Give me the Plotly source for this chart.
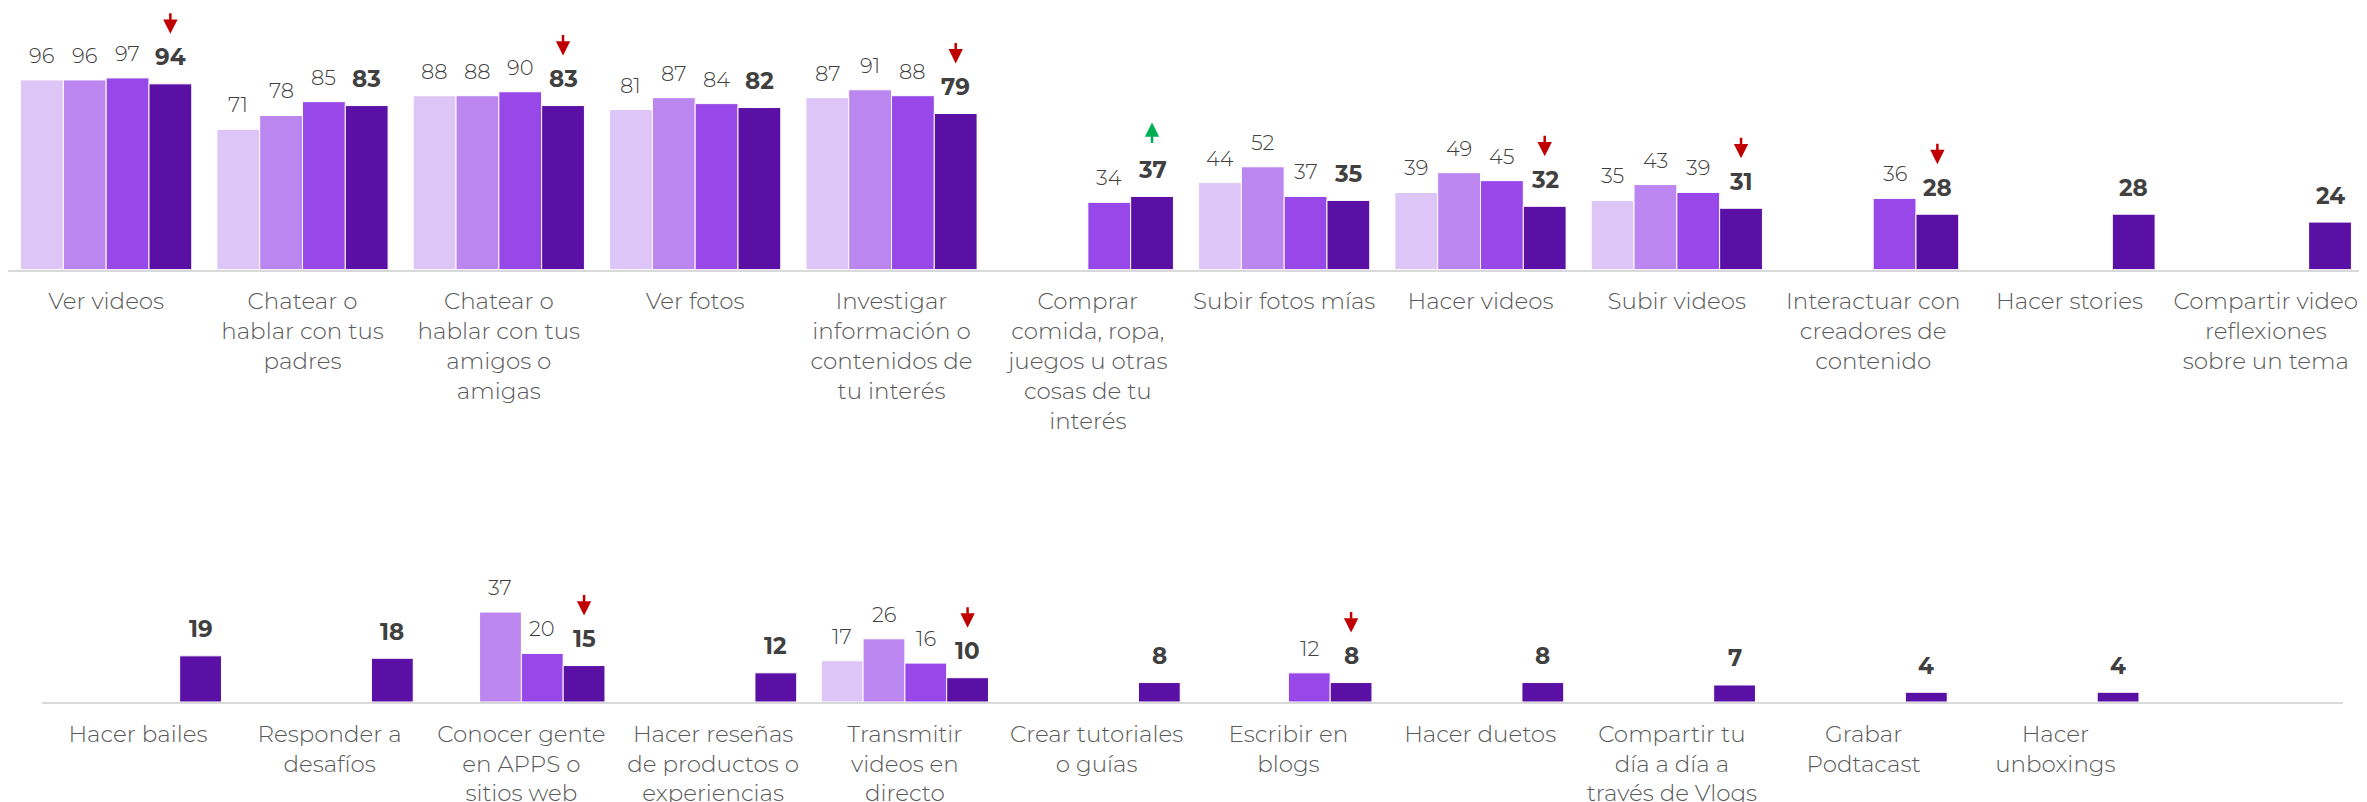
import plotly.graph_objects as go

# ---------------- data ----------------
series_names = ["Serie 1", "Serie 2", "Serie 3", "Serie 4"]
series_colors = ["#DEC5F8", "#BB86F0", "#9848E8", "#5A10A4"]

top_categories = [
    "Ver videos",
    "Chatear o<br>hablar con tus<br>padres",
    "Chatear o<br>hablar con tus<br>amigos o<br>amigas",
    "Ver fotos",
    "Investigar<br>información o<br>contenidos de<br>tu interés",
    "Comprar<br>comida, ropa,<br>juegos u otras<br>cosas de tu<br>interés",
    "Subir fotos mías",
    "Hacer videos",
    "Subir videos",
    "Interactuar con<br>creadores de<br>contenido",
    "Hacer stories",
    "Compartir video<br>reflexiones<br>sobre un tema",
]
top_s1 = [96, 71, 88, 81, 87, None, 44, 39, 35, None, None, None]
top_s2 = [96, 78, 88, 87, 91, None, 52, 49, 43, None, None, None]
top_s3 = [97, 85, 90, 84, 88, 34, 37, 45, 39, 36, None, None]
top_s4 = [94, 83, 83, 82, 79, 37, 35, 32, 31, 28, 28, 24]
top_trend = ["down", None, "down", None, "down", "up", None, "down", "down", "down", None, None]

bottom_categories = [
    "Hacer bailes",
    "Responder a<br>desafíos",
    "Conocer gente<br>en APPS o<br>sitios web",
    "Hacer reseñas<br>de productos o<br>experiencias",
    "Transmitir<br>videos en<br>directo",
    "Crear tutoriales<br>o guías",
    "Escribir en<br>blogs",
    "Hacer duetos",
    "Compartir tu<br>día a día a<br>través de Vlogs",
    "Grabar<br>Podtacast",
    "Hacer<br>unboxings",
]
bot_s1 = [None, None, None, None, 17, None, None, None, None, None, None]
bot_s2 = [None, None, 37, None, 26, None, None, None, None, None, None]
bot_s3 = [None, None, 20, None, 16, None, 12, None, None, None, None]
bot_s4 = [19, 18, 15, 12, 10, 8, 8, 8, 7, 4, 4]
bot_trend = [None, None, "down", None, "down", None, "down", None, None, None, None]

# ---------------- layout constants ----------------
# the page body has an 8px margin, so the figure starts at (8, 8) in the window
OFF = 8
W, H = 2367 - OFF, 802 - OFF
FONT = "Montserrat, 'Open Sans', sans-serif"
LABEL_COLOR = "#404040"
CAT_COLOR = "#595959"
BARGAP = 0.128

top_x = (0, 2364 - OFF)
bot_x = (42 - OFF, 2343 - OFF)
top_base, top_scale, top_max = 269.5 - OFF, 1.975, 128
bot_base, bot_scale, bot_max = 702 - OFF, 2.43, 60
n_slots = 12

def ydom(base, scale, vmax):
    top_px = base - scale * vmax
    return [(H - base) / H, (H - top_px) / H]

top_bar_w = (top_x[1] - top_x[0]) / n_slots * (1 - BARGAP) / 4
bot_bar_w = (bot_x[1] - bot_x[0]) / n_slots * (1 - BARGAP) / 4

fig = go.Figure()
annotations = []

rows = [
    (top_categories, [top_s1, top_s2, top_s3, top_s4], top_trend, "x", "y", top_bar_w),
    (bottom_categories, [bot_s1, bot_s2, bot_s3, bot_s4], bot_trend, "x2", "y2", bot_bar_w),
]

for cats, series, trend, xr, yr, bw in rows:
    for si, vals in enumerate(series):
        fig.add_trace(go.Bar(
            x=cats, y=vals, name=series_names[si],
            marker=dict(color=series_colors[si], line=dict(color="white", width=1)),
            xaxis=xr, yaxis=yr, showlegend=False, hoverinfo="x+y",
        ))
        for ci, v in enumerate(vals):
            if v is None:
                continue
            bold = si == 3
            annotations.append(dict(
                x=cats[ci], y=v, xref=xr, yref=yr,
                text=f"<b>{v}</b>" if bold else str(v),
                showarrow=False, xanchor="center", yanchor="middle",
                xshift=(si - 1.5) * bw, yshift=26.5 if bold else 24.5,
                font=dict(family=FONT, size=23 if bold else 21, color=LABEL_COLOR,
                          weight=700 if bold else 300),
            ))
    # trend arrows above last series
    for ci, t in enumerate(trend):
        if t is None:
            continue
        v = series[3][ci]
        up = t == "up"
        annotations.append(dict(
            x=cats[ci], y=v, xref=xr, yref=yr, text="",
            showarrow=True, arrowhead=2, arrowsize=1.15, arrowwidth=2.5,
            arrowcolor="#00B050" if up else "#C00000",
            ax=0, ay=22 if up else -22, axref="pixel", ayref="pixel",
            xshift=1.5 * bw, yshift=74 if up else 50, standoff=0, startstandoff=0,
        ))

axis_common = dict(
    type="category", range=[-0.5, n_slots - 0.5], showgrid=False, zeroline=False,
    showline=True, linecolor="#D9D9D9", linewidth=2, ticks="",
    ticklabelstandoff=10, tickangle=0, automargin=False,
    tickfont=dict(family=FONT, size=23, color=CAT_COLOR, weight=300),
)
yaxis_common = dict(showgrid=False, zeroline=False, showline=False, showticklabels=False,
                    fixedrange=True, automargin=False)

fig.update_layout(
    width=W, height=H, margin=dict(l=0, r=0, t=0, b=0, pad=0, autoexpand=False),
    paper_bgcolor="white", plot_bgcolor="white",
    barmode="group", bargap=BARGAP, bargroupgap=0,
    xaxis=dict(axis_common, domain=[top_x[0] / W, top_x[1] / W], anchor="y",
               categoryorder="array", categoryarray=top_categories),
    yaxis=dict(yaxis_common, domain=ydom(top_base, top_scale, top_max), range=[0, top_max], anchor="x"),
    xaxis2=dict(axis_common, domain=[bot_x[0] / W, bot_x[1] / W], anchor="y2",
                categoryorder="array", categoryarray=bottom_categories),
    yaxis2=dict(yaxis_common, domain=ydom(bot_base, bot_scale, bot_max), range=[0, bot_max], anchor="x2"),
    annotations=annotations,
    font=dict(family=FONT),
)

fig.write_html("out.html")
